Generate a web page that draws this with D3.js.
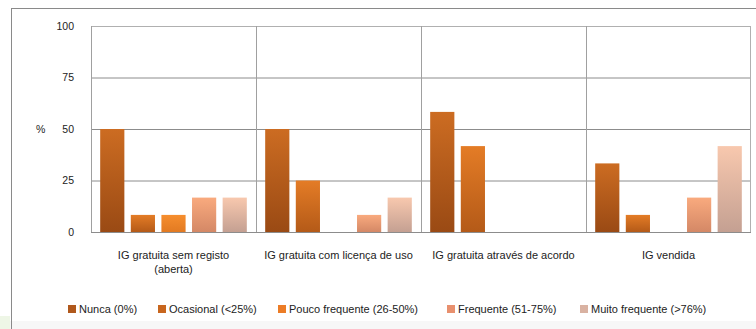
<!DOCTYPE html>
<html><head><meta charset="utf-8">
<script src="https://cdn.jsdelivr.net/npm/d3@7"></script>
<style>body{margin:0;background:#fff}svg{display:block}text{font-family:"Liberation Sans",Arial,sans-serif;fill:#222}</style>
</head><body><svg id="c" width="756" height="329"></svg>
<script>
const categories = ["IG gratuita sem registo|(aberta)", "IG gratuita com licença de uso", "IG gratuita através de acordo", "IG vendida"];
const seriesNames = ["Nunca (0%)", "Ocasional (<25%)", "Pouco frequente (26-50%)", "Frequente (51-75%)", "Muito frequente (>76%)"];
const nunca = [50, 50, 58.3, 33.3];
const ocasional = [8.3, 25, 41.7, 8.3];
const poucoFrequente = [8.3, 0, 0, 0];
const frequente = [16.7, 8.3, 0, 16.7];
const muitoFrequente = [16.7, 16.7, 0, 41.7];
const yTicks = [0, 25, 50, 75, 100];

const seriesValues = [nunca, ocasional, poucoFrequente, frequente, muitoFrequente];
const gradTop = ["#cc6c22", "#e47c26", "#f68e2e", "#f9aa7e", "#f8c8ae"];
const gradBot = ["#9a4a14", "#b45a18", "#e27a22", "#d48866", "#c4a092"];
const legendCol = ["#b0581c", "#c8661e", "#ec7c26", "#e8906e", "#d9b2a2"];

const svg = d3.select("#c");
const defs = svg.append("defs");
gradTop.forEach((c, i) => {
  const g = defs.append("linearGradient").attr("id", "g" + i).attr("x1", 0).attr("y1", 0).attr("x2", 0).attr("y2", 1);
  g.append("stop").attr("offset", "0%").attr("stop-color", c);
  g.append("stop").attr("offset", "100%").attr("stop-color", gradBot[i]);
});

// outer frame
svg.append("rect").attr("x", 0).attr("y", 321).attr("width", 756).attr("height", 8).attr("fill", "#f7f7f7");
svg.append("rect").attr("x", 0).attr("y", 316).attr("width", 10).attr("height", 13).attr("fill", "#eef6e6");
svg.append("line").attr("x1", 11).attr("x2", 756).attr("y1", 8.5).attr("y2", 8.5).attr("stroke", "#8a8a8a");
svg.append("line").attr("x1", 11.5).attr("x2", 11.5).attr("y1", 8).attr("y2", 329).attr("stroke", "#8a8a8a");

const L = 91, R = 751, T = 26, B = 232;
const x0 = d3.scaleBand().domain(categories).range([L, R]).padding(0);
const x1 = d3.scaleBand().domain(d3.range(5)).range([0, x0.bandwidth()]).paddingInner(0.21).paddingOuter(0.3);
const y = d3.scaleLinear().domain([0, 100]).range([B, T]);

// gridlines
const yAxis = d3.axisLeft(y).tickValues(yTicks).tickSize(-(R - L)).tickFormat(d3.format("d")).tickPadding(17);
const ga = svg.append("g").attr("transform", `translate(${L},0)`).call(yAxis);
ga.select(".domain").remove();
ga.selectAll(".tick line").attr("stroke", d => d === 100 ? "#b0b0b0" : "#8c8c8c");
ga.selectAll(".tick text").attr("font-size", 10.5).style("font-family", "Liberation Sans, Arial, sans-serif").attr("fill", "#222");

// vertical separators
svg.append("g").selectAll("line").data(categories).join("line")
  .attr("x1", d => x0(d) + 0.5).attr("x2", d => x0(d) + 0.5)
  .attr("y1", T).attr("y2", B).attr("stroke", "#a0a0a0");
svg.append("line").attr("x1", R - 0.5).attr("x2", R - 0.5).attr("y1", T).attr("y2", B).attr("stroke", "#b0b0b0");
svg.append("line").attr("x1", L).attr("x2", R).attr("y1", B + 0.5).attr("y2", B + 0.5).attr("stroke", "#8c8c8c");

svg.append("text").attr("x", 36).attr("y", y(50) + 4).attr("font-size", 10.5).text("%");

// bars
const bars = [];
categories.forEach((c, ci) => seriesValues.forEach((vals, si) => bars.push({ c, si, v: vals[ci] })));
svg.append("g").selectAll("rect").data(bars.filter(d => d.v > 0)).join("rect")
  .attr("x", d => x0(d.c) + x1(d.si))
  .attr("width", x1.bandwidth())
  .attr("y", d => y(d.v))
  .attr("height", d => B - y(d.v))
  .attr("fill", d => `url(#g${d.si})`);

// category labels
const cl = svg.append("g").selectAll("text").data(categories).join("text")
  .attr("x", d => x0(d) + x0.bandwidth() / 2)
  .attr("y", 259).attr("text-anchor", "middle").attr("font-size", 11);
cl.each(function (d) {
  const parts = d.split("|");
  d3.select(this).selectAll("tspan").data(parts).join("tspan")
    .attr("x", x0(d) + x0.bandwidth() / 2).attr("dy", (p, i) => i === 0 ? 0 : 14).text(p => p);
});

// legend
const legX = [68, 158, 278, 447, 580];
const lg = svg.append("g").selectAll("g").data(seriesNames).join("g")
  .attr("transform", (d, i) => `translate(${legX[i]},309)`);
lg.append("rect").attr("x", 0).attr("y", -4).attr("width", 8).attr("height", 8).attr("fill", (d, i) => legendCol[i]);
lg.append("text").attr("x", 11).attr("y", 4).attr("font-size", 11).text(d => d);
</script></body></html>
